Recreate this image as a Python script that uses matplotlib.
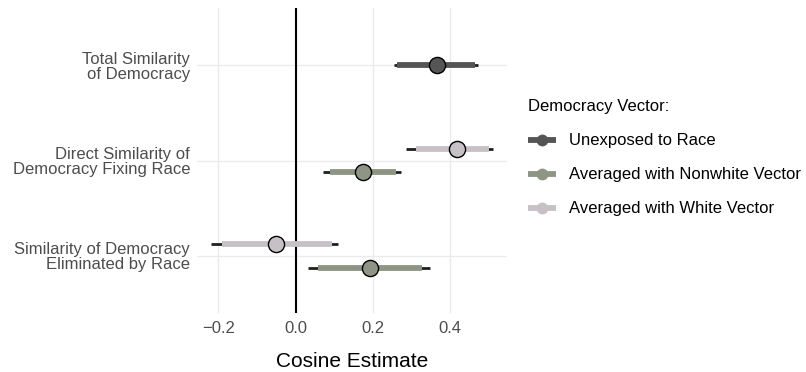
import matplotlib
matplotlib.use("Agg")
import matplotlib.pyplot as plt
from matplotlib.lines import Line2D

plt.rcParams['font.family'] = ['Liberation Sans', 'DejaVu Sans']

categories = ["Total Similarity\nof Democracy",
              "Direct Similarity of\nDemocracy Fixing Race",
              "Similarity of Democracy\nEliminated by Race"]
groups = ["Unexposed to Race", "Averaged with Nonwhite Vector", "Averaged with White Vector"]
colors = {"Unexposed to Race": "#555555",
          "Averaged with Nonwhite Vector": "#8f9585",
          "Averaged with White Vector": "#c7c1c6"}

# rows: (category index, group, estimate, inner_lo, inner_hi, outer_lo, outer_hi)
row_cat = [0, 1, 1, 2, 2]
row_group = ["Unexposed to Race", "Averaged with White Vector", "Averaged with Nonwhite Vector",
             "Averaged with White Vector", "Averaged with Nonwhite Vector"]
estimate = [0.367, 0.419, 0.174, -0.051, 0.193]
inner_lo = [0.262, 0.312, 0.088, -0.191, 0.059]
inner_hi = [0.466, 0.501, 0.261, 0.095, 0.329]
outer_lo = [0.255, 0.287, 0.071, -0.220, 0.031]
outer_hi = [0.474, 0.513, 0.273, 0.111, 0.349]
dodge = {"Unexposed to Race": 0.0, "Averaged with White Vector": 0.125,
         "Averaged with Nonwhite Vector": -0.125}

fig = plt.figure(figsize=(8.06, 3.72), dpi=100)
ax = fig.add_axes([197/806, 1-313/372, 310/806, 305/372])

ncat = len(categories)
base_y = [ncat - i for i in range(ncat)]

ax.axvline(0, color="black", lw=1.5, zorder=2)

for c, g, e, il, ih, ol, oh in zip(row_cat, row_group, estimate, inner_lo, inner_hi, outer_lo, outer_hi):
    y = base_y[c] + dodge[g]
    ax.hlines(y, ol, oh, color="#1f1f1f", lw=2.0, zorder=3, capstyle='butt')
    ax.hlines(y, il, ih, color=colors[g], lw=4.2, zorder=4, capstyle='butt')
    ax.scatter([e], [y], s=135, color=colors[g], edgecolor="black", linewidth=1.0, zorder=5)

ax.set_xlim(-0.2554, 0.548)
ax.set_ylim(0.4, ncat + 0.6)
ax.set_yticks(base_y)
ax.set_yticklabels(categories, linespacing=1.0)
ax.set_xticks([-0.2, 0.0, 0.2, 0.4])
ax.set_xticklabels(["\u22120.2", "0.0", "0.2", "0.4"])
ax.tick_params(length=0, labelsize=12, labelcolor="#4d4d4d")
ax.tick_params(axis='y', pad=5)
ax.tick_params(axis='x', pad=5.5)
ax.grid(True, color="#ebebeb", lw=1.0, zorder=0)
ax.set_axisbelow(True)
for s in ax.spines.values():
    s.set_visible(False)
ax.set_xlabel("Cosine Estimate", fontsize=15, labelpad=12)

handles = [Line2D([0], [0], color=colors[g], lw=4.2, marker='o', markersize=8.5,
                  markeredgewidth=0, markerfacecolor=colors[g], solid_capstyle='butt')
           for g in groups]
leg = fig.legend(handles, groups, loc="center left", bbox_to_anchor=(513/806, 1-158/372),
                 frameon=False, fontsize=12, title="Democracy Vector:", title_fontsize=12,
                 alignment="left", handlelength=1.7, handletextpad=0.75, labelspacing=1.14)

fig.savefig("out.png", dpi=100)
